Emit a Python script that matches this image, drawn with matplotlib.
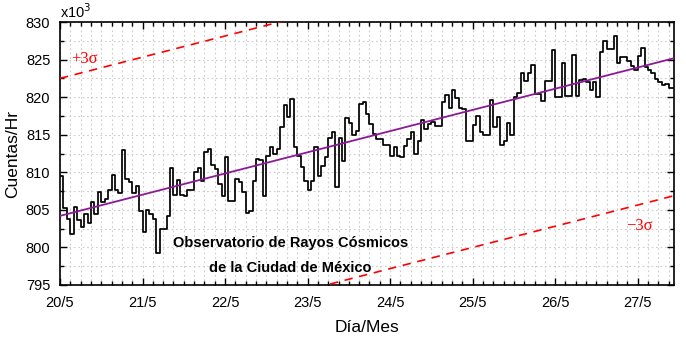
import numpy as np
import matplotlib
matplotlib.use('Agg')
import matplotlib.pyplot as plt
from matplotlib.ticker import MultipleLocator, FixedLocator

plt.rcParams['font.family'] = ['Liberation Sans', 'DejaVu Sans']

# hourly counts (x10^3) starting 20/5 00h
counts = [
    809.5, 805.2, 803.8, 801.8, 805.4, 803.7, 802.7, 804.4, 803.2, 806.0, 804.5, 807.4,
    806.0, 806.5, 807.7, 809.6, 807.7, 807.3, 813.0, 809.1, 808.7, 807.3, 808.2, 804.9,
    802.1, 805.0, 804.5, 803.8, 799.3, 802.5, 802.5, 804.2, 810.6, 807.0, 809.0, 807.0,
    806.8, 807.7, 807.7, 810.0, 810.6, 808.8, 812.7, 813.1, 811.0, 810.4, 808.4, 806.9,
    812.0, 806.2, 806.2, 809.1, 808.7, 807.4, 804.6, 804.8, 808.9, 811.8, 811.7, 806.9,
    812.2, 813.3, 812.4, 813.1, 816.0, 819.0, 817.3, 819.8, 813.3, 812.2, 810.7, 808.9,
    807.6, 808.9, 813.3, 809.5, 810.8, 812.0, 814.5, 815.3, 808.0, 814.6, 811.5, 817.2,
    816.5, 814.9, 815.5, 819.1, 819.3, 817.8, 816.4, 815.1, 814.4, 814.4, 813.6, 813.6,
    812.2, 813.3, 812.2, 812.0, 813.5, 814.4, 815.3, 812.4, 814.2, 816.9, 815.7, 816.4,
    816.7, 816.2, 816.2, 819.3, 820.3, 818.6, 820.9, 819.9, 818.6, 818.4, 814.2, 814.1,
    816.3, 817.5, 815.4, 815.0, 815.0, 819.6, 816.0, 817.3, 813.6, 814.2, 816.6, 814.9,
    820.0, 820.5, 823.2, 822.2, 823.2, 824.3, 820.4, 820.4, 819.5, 822.2, 822.2, 826.3,
    820.0, 820.0, 824.5, 820.2, 820.2, 825.6, 820.2, 822.3, 822.4, 822.0, 820.9, 822.0,
    820.0, 826.0, 827.5, 826.4, 826.4, 828.1, 824.6, 825.4, 825.3, 824.8, 824.2, 823.6,
    825.5, 826.5, 824.0, 823.6, 823.2, 822.4, 822.0, 821.6, 821.8, 821.2,
]
day_labels = ['20/5', '21/5', '22/5', '23/5', '24/5', '25/5', '26/5', '27/5']
first_day = 20
x_end = 27.44

# linear trend and 3 sigma band
trend_start = 804.2
trend_slope = 2.82   # per day
sigma3 = 18.3

fig = plt.figure(figsize=(6.86, 3.39), dpi=100)
ax = fig.add_axes([60/686, 54/339, 614/686, 263/339])

x = first_day + np.arange(len(counts)) / 24.0
ax.step(np.append(x, x_end), np.append(counts, counts[-1]), where='post',
        color='black', lw=1.25, zorder=3)

xx = np.array([first_day, x_end])
trend = trend_start + trend_slope * (xx - first_day)
ax.plot(xx, trend, color='#8b1a96', lw=1.3, zorder=4)
ax.plot(xx, trend + sigma3, color='#ff0000', lw=1.2, ls=(0, (5, 4)), zorder=4)
ax.plot(xx, trend - sigma3, color='#ff0000', lw=1.2, ls=(0, (5, 4)), zorder=4)

serif = ['Liberation Serif', 'DejaVu Serif']
ax.text(20.14, 824.6, '+3σ', color='red', fontsize=12, family=serif)
ax.text(26.86, 802.3, '−3σ', color='red', fontsize=12, family=serif)

ax.text(22.79, 800.6, 'Observatorio de Rayos Cósmicos', ha='center', va='center',
        fontsize=10.5, fontweight='bold')
ax.text(22.79, 797.3, 'de la Ciudad de México', ha='center', va='center',
        fontsize=10.5, fontweight='bold')

ax.set_xlim(first_day, x_end)
ax.set_ylim(795, 830)
ax.xaxis.set_major_locator(FixedLocator(range(first_day, first_day + len(day_labels))))
ax.set_xticklabels(day_labels)
ax.xaxis.set_minor_locator(MultipleLocator(1/8))
ax.yaxis.set_major_locator(MultipleLocator(5))
ax.yaxis.set_minor_locator(MultipleLocator(2.5))

ax.tick_params(which='both', direction='in', top=True, right=True, labelsize=10.5, width=1)
ax.tick_params(which='major', length=5)
ax.tick_params(which='minor', length=3)
ax.tick_params(axis='x', which='major', pad=8)
ax.tick_params(axis='y', which='major', pad=7)
for s in ax.spines.values():
    s.set_linewidth(1.2)

ax.grid(which='both', color='#cccccc', ls=(0, (1.5, 2.5)), lw=0.8, zorder=0)

ax.text(0.0, 1.005, r'x10$^3$', transform=ax.transAxes, fontsize=10.5, va='bottom', ha='left')
ax.set_xlabel('Día/Mes', fontsize=12.5, labelpad=7)
ax.set_ylabel('Cuentas/Hr', fontsize=12.5, labelpad=4)

fig.savefig('out.png', dpi=100)
